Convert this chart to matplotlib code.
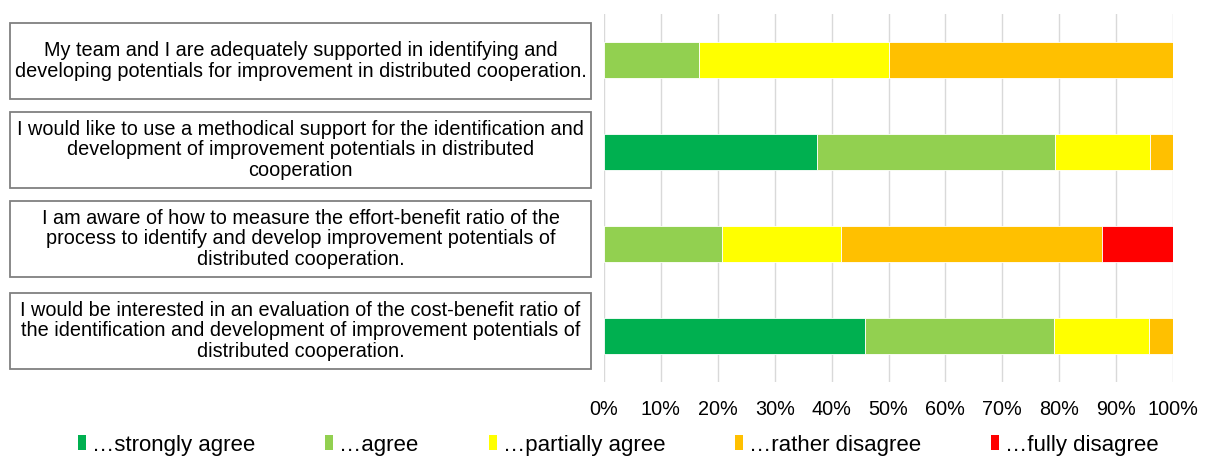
import matplotlib

matplotlib.use("Agg")

import matplotlib.pyplot as plt
from matplotlib.patches import Patch, Rectangle

plt.rcParams["font.family"] = ["Liberation Sans", "DejaVu Sans"]

statements = [
    "My team and I are adequately supported in identifying and\n"
    "developing potentials for improvement in distributed cooperation.",
    "I would like to use a methodical support for the identification and\n"
    "development of improvement potentials in distributed\ncooperation",
    "I am aware of how to measure the effort-benefit ratio of the\n"
    "process to identify and develop improvement potentials of\n"
    "distributed cooperation.",
    "I would be interested in an evaluation of the cost-benefit ratio of\n"
    "the identification and development of improvement potentials of\n"
    "distributed cooperation.",
]
answers = ["…strongly agree", "…agree", "…partially agree", "…rather disagree", "…fully disagree"]
colors = ["#00B050", "#92D050", "#FFFF00", "#FFC000", "#FF0000"]

# shares in percent per statement (top to bottom)
strongly_agree = [0.0, 37.5, 0.0, 45.8]
agree = [16.7, 41.7, 20.8, 33.3]
partially_agree = [33.3, 16.7, 20.8, 16.7]
rather_disagree = [50.0, 4.1, 45.9, 4.2]
fully_disagree = [0.0, 0.0, 12.5, 0.0]
series = [strongly_agree, agree, partially_agree, rather_disagree, fully_disagree]

W, H = 1208, 457
fig = plt.figure(figsize=(W / 100, H / 100), dpi=100)
ax = fig.add_axes([604 / W, 1 - 382 / H, (1173 - 604) / W, (382 - 14) / H])

ypos = list(range(len(statements)))
left = [0.0] * len(statements)
for vals, col, name in zip(series, colors, answers):
    ax.barh(ypos, vals, left=left, height=0.4, color=col, edgecolor="white",
            linewidth=0.6, label=name, zorder=3)
    left = [l + v for l, v in zip(left, vals)]

ax.set_xlim(0, 100)
ax.set_ylim(3.5, -0.5)
ax.set_xticks(range(0, 101, 10))
ax.set_xticklabels([f"{t}%" for t in range(0, 101, 10)], fontsize=14.3)
ax.set_yticks([])
ax.tick_params(axis="x", length=0, pad=13)
ax.grid(axis="x", color="#D9D9D9", linewidth=1, zorder=0)
for s in ax.spines.values():
    s.set_visible(False)

# statement boxes on the left (pixel layout from the original slide)
box_tops = [23, 112, 201, 293]
box_h = 76
for text, top in zip(statements, box_tops):
    x0, x1 = 10, 591
    fig.patches.append(Rectangle((x0 / W, 1 - (top + box_h) / H), (x1 - x0) / W, box_h / H,
                                 transform=fig.transFigure, fill=False,
                                 edgecolor="#808080", linewidth=1.3))
    fig.text((x0 + x1) / 2 / W, 1 - (top + box_h / 2) / H, text, ha="center", va="center",
             multialignment="center", fontsize=14.3, linespacing=1.08)

handles = [Patch(facecolor=c, edgecolor="none") for c in colors]
fig.legend(handles, answers, loc="center", bbox_to_anchor=(0.512, 1 - 445 / H), ncol=5,
           frameon=False, fontsize=16, handlelength=0.36, handleheight=0.65,
           handletextpad=0.27, columnspacing=3.15)

fig.savefig("out.png", dpi=100)
